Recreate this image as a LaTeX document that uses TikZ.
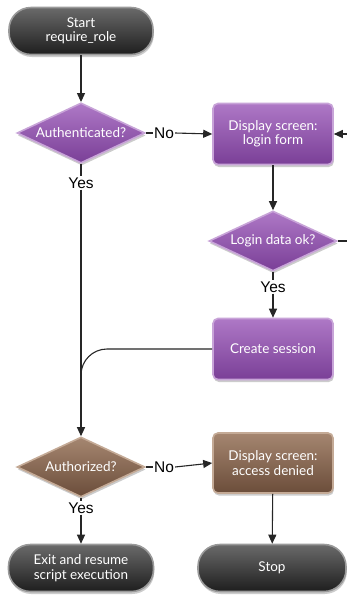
\documentclass[tikz,border=0pt]{standalone}
\usepackage{fontspec}
\setmainfont{Lato}
\newfontfamily\lblfont{Liberation Sans}
\usetikzlibrary{shapes.geometric,shadows,arrows.meta}
\definecolor{purTop}{HTML}{AE78C6}
\definecolor{purBot}{HTML}{7A3F97}
\definecolor{purEdge}{HTML}{C8A4D8}
\definecolor{brnTop}{HTML}{A58670}
\definecolor{brnBot}{HTML}{6B4D3A}
\definecolor{brnEdge}{HTML}{C4AA96}
\definecolor{drkTop}{HTML}{6A6A6A}
\definecolor{drkBot}{HTML}{1E1E1E}
\definecolor{drkEdge}{HTML}{9A9A9A}
\tikzset{
  x=1pt, y=-1pt,
  base/.style={text=white, font=\fontsize{13.5}{14.5}\selectfont, align=center, line width=1.6pt,
    drop shadow={opacity=0.4, shadow xshift=0.8pt, shadow yshift=-2.5pt}},
  pill/.style={base, rectangle, rounded corners=22pt, minimum width=144pt, minimum height=47pt,
    top color=drkTop, bottom color=drkBot, draw=drkEdge},
  purbox/.style={base, rectangle, rounded corners=5pt, minimum width=120pt, minimum height=61pt,
    top color=purTop, bottom color=purBot, draw=purEdge},
  purdia/.style={base, diamond, aspect=1.8, inner sep=0pt, minimum width=128pt, minimum height=60pt,
    top color=purTop, bottom color=purBot, draw=purEdge},
  brnbox/.style={base, rectangle, rounded corners=5pt, minimum width=120pt, minimum height=60pt,
    top color=brnTop, bottom color=brnBot, draw=brnEdge},
  brndia/.style={base, diamond, aspect=1.8, inner sep=0pt, minimum width=128pt, minimum height=60pt,
    top color=brnTop, bottom color=brnBot, draw=brnEdge},
  lbl/.style={font=\lblfont\fontsize{15.5}{16}\selectfont, inner sep=1pt},
  conn/.style={draw=black!85, line width=1.1pt},
  arr/.style={conn, -{Triangle[length=9pt,width=8pt]}},
}
\begin{document}
\begin{tikzpicture}
\useasboundingbox (0,0) rectangle (347,598);
\clip (0,0) rectangle (347,598);
\fill[white] (0,0) rectangle (347,598);

\node[pill] (start) at (81,31) {Start\\require\_role};
\node[purdia] (auth) at (81,133) {Authenticated?};
\node[purbox] (login) at (273,134) {Display screen:\\login form};
\node[purdia] (ldok) at (273,241) {Login data ok?};
\node[purbox] (sess) at (273,349) {Create session};
\node[brndia] (authz) at (81,467) {Authorized?};
\node[brnbox] (deny) at (273,463) {Display screen:\\access denied};
\node[pill, minimum width=145pt] (exit) at (81,568) {Exit and resume\\script execution};
\node[pill, minimum width=148pt] (stop) at (272,568) {Stop};

\node[lbl] (no1) at (164,133) {No};
\node[lbl] (yes1) at (81,183) {Yes};
\node[lbl] (yes2) at (273,287) {Yes};
\node[lbl] (no2) at (164,467) {No};
\node[lbl] (yes3) at (81,508) {Yes};

\coordinate (rt) at (356,241);
\coordinate (merge) at (81,420);

\draw[arr] (start) -- (auth);
\draw[conn] (auth.east) -- (no1.west);
\draw[arr] (no1.east) -- (login.west);
\draw[arr] (login) -- (ldok);
\draw[conn] (ldok.east) -- (rt);
\draw[arr] (rt) |- (login.east);
\draw[conn] (ldok.south) -- (yes2.north);
\draw[arr] (yes2.south) -- (sess.north);
\draw[conn] (auth.south) -- (yes1.north);
\draw[arr] (yes1.south) -- (authz.north);
\draw[conn, rounded corners=26pt] (sess.west) -| (merge);
\draw[conn] (authz.east) -- (no2.west);
\draw[arr] (no2.east) -- (deny.west);
\draw[conn] (authz.south) -- (yes3.north);
\draw[arr] (yes3.south) -- (exit.north);
\draw[arr] (deny) -- (stop);
\end{tikzpicture}
\end{document}
